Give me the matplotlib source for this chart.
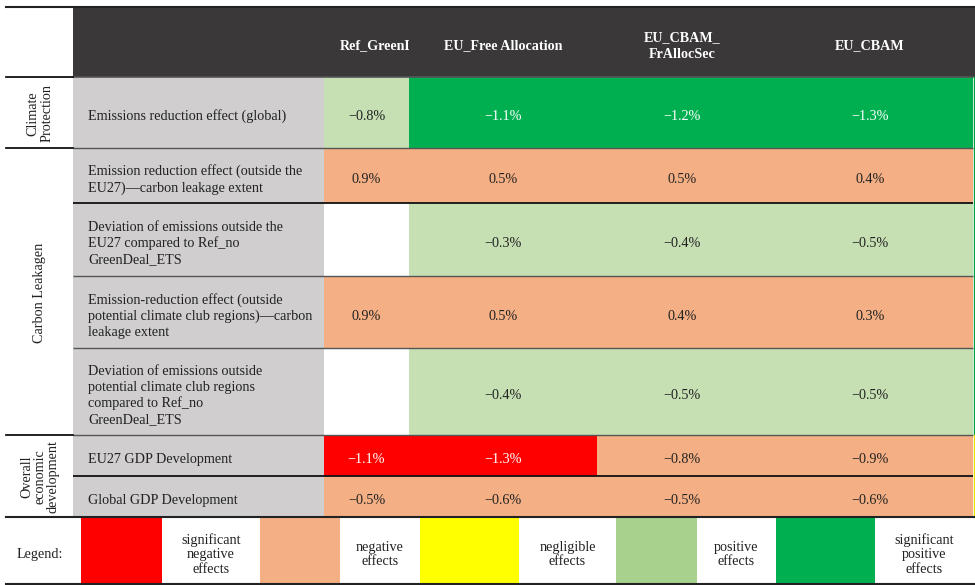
import matplotlib
matplotlib.use("Agg")
import matplotlib.pyplot as plt
from matplotlib.patches import Rectangle
from matplotlib.transforms import Bbox, TransformedBbox

# ---------------- data ----------------
columns = ["Ref_GreenDeal", "EU_Free Allocation", "EU_CBAM_\nFrAllocSec", "EU_CBAM"]
groups = ["Climate\nProtection", "Carbon Leakagen", "Overall\neconomic\ndevelopment"]
group_sizes = [1, 4, 2]
row_labels = [
    "Emissions reduction effect (global)",
    "Emission reduction effect (outside the\nEU27)\u2014carbon leakage extent",
    "Deviation of emissions outside the\nEU27 compared to Ref_no\nGreenDeal_ETS",
    "Emission-reduction effect (outside\npotential climate club regions)\u2014carbon\nleakage extent",
    "Deviation of emissions outside\npotential climate club regions\ncompared to Ref_no\nGreenDeal_ETS",
    "EU27 GDP Development",
    "Global GDP Development",
]
values = [
    [-0.8, -1.1, -1.2, -1.3],
    [0.9, 0.5, 0.5, 0.4],
    [None, -0.3, -0.4, -0.5],
    [0.9, 0.5, 0.4, 0.3],
    [None, -0.4, -0.5, -0.5],
    [-1.1, -1.3, -0.8, -0.9],
    [-0.5, -0.6, -0.5, -0.6],
]
effects = [
    ["p", "sp", "sp", "sp"],
    ["n", "n", "n", "n"],
    [None, "p", "p", "p"],
    ["n", "n", "n", "n"],
    [None, "p", "p", "p"],
    ["sn", "sn", "n", "n"],
    ["n", "n", "n", "n"],
]
legend_keys = ["sn", "n", "0", "p", "sp"]
legend_labels = ["significant\nnegative\neffects", "negative\neffects", "negligible\neffects",
                 "positive\neffects", "significant\npositive\neffects"]

# ---------------- styles ----------------
cell_colors = {"sn": "#fe0000", "n": "#f4b084", "0": "#ffff00", "p": "#c6e0b4", "sp": "#00b050", None: "#ffffff"}
legend_colors = {"sn": "#fe0000", "n": "#f4b084", "0": "#ffff00", "p": "#a9d18e", "sp": "#00b050"}
text_colors = {"sn": "white", "sp": "white"}
FONT = ["Liberation Serif", "DejaVu Serif"]
plt.rcParams["font.family"] = FONT

W, H = 975, 585
fig = plt.figure(figsize=(W / 100, H / 100), dpi=100)
ax = fig.add_axes([0, 0, 1, 1])
ax.set_xlim(0, W)
ax.set_ylim(H, 0)
ax.axis("off")

# layout (pixels)
x_grp0, x_lab0, x_right = 6, 73, 973
col_edges = [324, 409, 597, 767, x_right]
head_y0, head_y1 = 7, 77
row_edges = [77, 148, 203, 276, 348, 435, 476, 517]
leg_y0, leg_y1 = 517, 584
FS = 10.2
DY = 4

def rect(x0, y0, x1, y1, color, **kw):
    r = Rectangle((x0, y0), x1 - x0, y1 - y0, facecolor=color, edgecolor="none", **kw)
    ax.add_patch(r)
    return r

def clip_text(t, x0, y0, x1, y1):
    bb = TransformedBbox(Bbox([[x0, y0], [x1, y1]]), ax.transData)
    t.set_clip_on(True)
    t.set_clip_box(bb)

# header
rect(x_lab0, head_y0, x_right + 2, head_y1, "#3a3839")
for j, name in enumerate(columns):
    cx0, cx1 = col_edges[j], col_edges[j + 1]
    if j == 0:
        t = ax.text(cx0 + 16, 46, name, color="white", fontsize=FS, fontweight="bold",
                    ha="left", va="center", linespacing=1.4)
    else:
        t = ax.text((cx0 + cx1) / 2, 46, name, color="white", fontsize=FS,
                    fontweight="bold", ha="center", va="center", linespacing=1.4)
    clip_text(t, cx0, head_y0, cx1, head_y1)

# body rows
for i, lab in enumerate(row_labels):
    y0, y1 = row_edges[i], row_edges[i + 1]
    rect(x_lab0, y0, col_edges[0], y1, "#d0cecf")
    ax.text(88, (y0 + y1) / 2 + DY, lab, fontsize=FS, ha="left", va="center", color="#222222",
            linespacing=1.27)
    for j in range(len(columns)):
        cx0, cx1 = col_edges[j], col_edges[j + 1]
        e = effects[i][j]
        rect(cx0, y0, cx1, y1, cell_colors[e])
        v = values[i][j]
        if v is not None:
            s = f"{v:.1f}%".replace("-", "\u2212")
            ax.text((cx0 + cx1) / 2, (y0 + y1) / 2 + DY, s, fontsize=FS, ha="center", va="center",
                    color=text_colors.get(e, "#222222"))

# row separators
for y in row_edges[1:-1]:
    strong = y in (203, 476)
    ax.plot([x_lab0, x_right], [y, y], color="#111111" if strong else "#555555",
            lw=1.3 if strong else 1.0, solid_capstyle="butt")
ax.plot([x_lab0, x_right], [77, 77], color="#555555", lw=1.2)

# right edge thin borders
ax.plot([x_right + 0.5, x_right + 0.5], [77, 435], color="#00a040", lw=1.0)
ax.plot([x_right + 0.5, x_right + 0.5], [435, 517], color="#e8e000", lw=1.0)

# group labels
gy = 0
for g, n in zip(groups, group_sizes):
    y0, y1 = row_edges[gy], row_edges[gy + n]
    t = ax.text(40, (y0 + y1) / 2 + 1, g, fontsize=FS, rotation=90, ha="center", va="center",
                color="#222222", linespacing=1.05)
    clip_text(t, x_grp0, y0 + 1, x_lab0, y1)
    ax.plot([x_grp0, x_lab0], [y1, y1], color="#111111", lw=1.3)
    gy += n
ax.plot([x_grp0, x_lab0], [head_y1, head_y1], color="#111111", lw=1.3)

# top line
ax.plot([x_grp0, W], [6.5, 6.5], color="#222222", lw=1.5)

# legend
ax.text(40, (leg_y0 + leg_y1) / 2 + DY, "Legend:", fontsize=FS, ha="center", va="center", color="#222222")
leg_edges = [81, 162, 260, 340, 420, 519, 616, 697, 776, 875, 973]
for k, (key, lab) in enumerate(zip(legend_keys, legend_labels)):
    bx0, bx1 = leg_edges[2 * k], leg_edges[2 * k + 1]
    tx1 = leg_edges[2 * k + 2]
    rect(bx0, leg_y0, bx1, leg_y1, legend_colors[key])
    ax.text((bx1 + tx1) / 2, (leg_y0 + leg_y1) / 2 + DY, lab, fontsize=FS, ha="center", va="center",
            color="#222222", linespacing=1.15)
ax.plot([x_grp0, W], [leg_y0, leg_y0], color="#222222", lw=1.5)
ax.plot([x_grp0, W], [leg_y1, leg_y1], color="#222222", lw=1.5)

fig.savefig("out.png", dpi=100)
